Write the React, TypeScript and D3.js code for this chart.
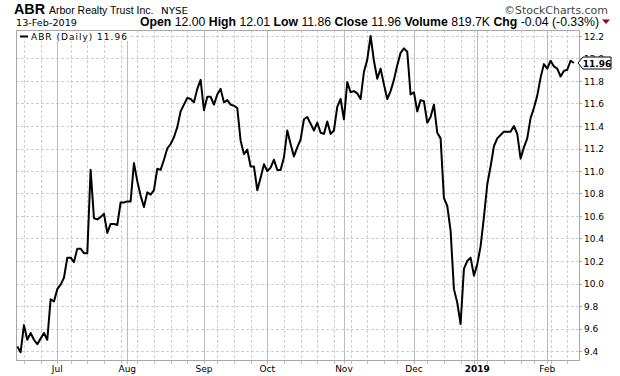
import React from "react";
import * as d3 from "d3";

// ---- data ----
const startDate = "2018-06-14";
const endDate = "2019-02-13";
const holidays = ["2018-07-04", "2018-09-03", "2018-11-22", "2018-12-05", "2018-12-25", "2019-01-01", "2019-01-21"];

const juneCloses = [9.44, 9.39, 9.63, 9.5, 9.56, 9.5, 9.46, 9.51, 9.56, 9.5, 9.86, 9.84];
const julyCloses = [9.95, 9.99, 10.05, 10.23, 10.23, 10.19, 10.31, 10.31, 10.27, 10.27, 11.01, 10.58, 10.57, 10.59, 10.62, 10.45, 10.53, 10.53, 10.52, 10.72, 10.72];
const augCloses = [10.73, 10.73, 11.07, 10.91, 10.78, 10.68, 10.81, 10.79, 10.83, 11.02, 11.01, 11.1, 11.2, 11.24, 11.3, 11.39, 11.53, 11.59, 11.65, 11.64, 11.61, 11.73, 11.81];
const sepCloses = [11.54, 11.66, 11.66, 11.59, 11.68, 11.73, 11.61, 11.63, 11.59, 11.58, 11.56, 11.27, 11.15, 11.19, 11.04, 11.04, 10.83, 10.94, 11.06];
const octCloses = [11.0, 11.03, 11.1, 11.01, 11.01, 11.12, 11.36, 11.24, 11.13, 11.21, 11.28, 11.46, 11.48, 11.42, 11.36, 11.43, 11.34, 11.33, 11.44, 11.33, 11.36, 11.57, 11.64];
const novCloses = [11.46, 11.79, 11.7, 11.71, 11.69, 11.64, 11.88, 11.99, 12.2, 11.98, 11.82, 11.91, 11.77, 11.64, 11.71, 11.81, 11.94, 12.05, 12.09, 12.06, 11.68];
const decCloses = [11.7, 11.53, 11.63, 11.62, 11.43, 11.48, 11.59, 11.34, 11.29, 10.76, 10.69, 10.47, 9.95, 9.83, 9.64, 10.13, 10.2, 10.23, 10.07];
const janCloses = [10.17, 10.33, 10.59, 10.88, 11.04, 11.22, 11.29, 11.32, 11.35, 11.35, 11.35, 11.4, 11.33, 11.11, 11.21, 11.29, 11.47, 11.56, 11.67, 11.83, 11.95];
const febCloses = [11.91, 11.98, 11.93, 11.91, 11.84, 11.89, 11.9, 11.98, 11.96];

const yTickValues = [9.4, 9.6, 9.8, 10.0, 10.2, 10.4, 10.6, 10.8, 11.0, 11.2, 11.4, 11.6, 11.8, 12.0, 12.2];
const monthNames = ["Jan", "Feb", "Mar", "Apr", "May", "Jun", "Jul", "Aug", "Sep", "Oct", "Nov", "Dec"];
const lastClose = 11.96;

const closes = [...juneCloses, ...julyCloses, ...augCloses, ...sepCloses, ...octCloses, ...novCloses, ...decCloses, ...janCloses, ...febCloses];

const fmtDay = d3.utcFormat("%Y-%m-%d");
const tradingDays = d3
  .utcDays(new Date(startDate), d3.utcDay.offset(new Date(endDate), 1))
  .filter((d) => d.getUTCDay() !== 0 && d.getUTCDay() !== 6 && !holidays.includes(fmtDay(d)));

const W = 620;
const H = 376;
const L = 16;
const R = 579;
const T = 30;
const B = 360;

const FONT = "'DejaVu Sans', Verdana, sans-serif";
const ARIAL = "'Liberation Sans', Arial, sans-serif";

export default function App() {
  const n = tradingDays.length;
  const x = d3.scaleLinear().domain([0, n - 1]).range([17.3, 17.3 + (n - 1) * 3.333]);
  const y = d3.scaleLinear().domain([9.4, 12.2]).range([351, 36]);

  const monthStarts: number[] = [];
  const weekStarts: number[] = [];
  tradingDays.forEach((d, i) => {
    if (i === 0) return;
    const p = tradingDays[i - 1];
    if (d.getUTCMonth() !== p.getUTCMonth()) monthStarts.push(i);
    if (d.getUTCDay() <= p.getUTCDay()) weekStarts.push(i);
  });

  const line = d3
    .line<number>()
    .x((_, i) => x(i))
    .y((v) => y(v));

  const gridColor = "#cfcfcf";
  const yLast = y(lastClose);

  return (
    <svg width={W} height={H} style={{ position: "absolute", left: 0, top: 0, background: "#fff" }}>
      <rect x={0} y={0} width={W} height={H} fill="#fff" />
      {/* header */}
      <text x={14} y={14} fontFamily={ARIAL} fontWeight="bold" fontSize={14} textLength={31} lengthAdjust="spacingAndGlyphs" fill="#000">ABR</text>
      <text x={49} y={14} fontFamily={ARIAL} fontSize={10.5} fill="#000">Arbor Realty Trust Inc.</text>
      <text x={161} y={14} fontFamily={FONT} fontSize={9} textLength={27} lengthAdjust="spacingAndGlyphs" fill="#000">NYSE</text>
      <text x={504} y={14} fontFamily={FONT} fontSize={10.5} textLength={104} lengthAdjust="spacingAndGlyphs" fill="#444">©StockCharts.com</text>
      <text x={16} y={25.5} fontFamily={FONT} fontSize={9.5} textLength={61} lengthAdjust="spacingAndGlyphs" fill="#000">13-Feb-2019</text>
      <text x={140} y={25.5} fontFamily={ARIAL} fontSize={12} textLength={459} lengthAdjust="spacingAndGlyphs" fill="#000">
        <tspan fontWeight="bold">Open</tspan>
        <tspan> 12.00 </tspan>
        <tspan fontWeight="bold">High</tspan>
        <tspan> 12.01 </tspan>
        <tspan fontWeight="bold">Low</tspan>
        <tspan> 11.86 </tspan>
        <tspan fontWeight="bold">Close</tspan>
        <tspan> 11.96 </tspan>
        <tspan fontWeight="bold">Volume</tspan>
        <tspan> 819.7K </tspan>
        <tspan fontWeight="bold">Chg</tspan>
        <tspan> -0.04 (-0.33%)</tspan>
      </text>
      <path d="M602,19.5 L610,19.5 L606,24 Z" fill="#a00020" />

      {/* grid */}
      {yTickValues.map((v) => (
        <line key={"h" + v} x1={L} x2={R} y1={Math.round(y(v)) + 0.5} y2={Math.round(y(v)) + 0.5} stroke={gridColor} strokeDasharray="3,2" />
      ))}
      {weekStarts.map((i) => (
        <line key={"w" + i} x1={Math.round(x(i)) + 0.5} x2={Math.round(x(i)) + 0.5} y1={T} y2={B} stroke={gridColor} strokeDasharray="3,2" />
      ))}
      {monthStarts.map((i) => (
        <line key={"m" + i} x1={Math.round(x(i)) + 0.5} x2={Math.round(x(i)) + 0.5} y1={T} y2={B} stroke="#bdbdbd" />
      ))}

      {/* frame */}
      <rect x={L + 0.5} y={T + 0.5} width={R - L} height={B - T} fill="none" stroke="#a8a8a8" />

      {/* ticks */}
      {weekStarts.concat(monthStarts).map((i) => (
        <line key={"t" + i} x1={Math.round(x(i)) + 0.5} x2={Math.round(x(i)) + 0.5} y1={B + 1} y2={B + 4} stroke="#bdbdbd" />
      ))}
      {yTickValues.map((v) => (
        <line key={"yt" + v} x1={R} x2={R + 3} y1={Math.round(y(v)) + 0.5} y2={Math.round(y(v)) + 0.5} stroke="#a8a8a8" />
      ))}

      {/* x labels */}
      {monthStarts.map((i) => {
        const d = tradingDays[i];
        const isYear = d.getUTCMonth() === 0;
        return (
          <text key={"xl" + i} x={x(i)} y={372} textAnchor="middle" fontFamily={FONT} fontSize={9} fontWeight={isYear ? "bold" : "normal"} fill="#000">
            {isYear ? String(d.getUTCFullYear()) : monthNames[d.getUTCMonth()]}
          </text>
        );
      })}

      {/* y labels */}
      {yTickValues.map((v) => (
        <text key={"yl" + v} x={584} y={y(v) + 3.5} fontFamily={FONT} fontSize={9} fill="#000">
          {v.toFixed(1)}
        </text>
      ))}

      {/* price line */}
      <path d={line(closes) ?? ""} fill="none" stroke="#000" strokeWidth={2} strokeLinejoin="round" />

      {/* legend */}
      <rect x={L + 1} y={T + 1} width={113} height={10} fill="#fff" />
      <line x1={20} x2={28} y1={36.5} y2={36.5} stroke="#000" strokeWidth={2} />
      <text x={31} y={39.5} fontFamily={FONT} fontSize={9} letterSpacing={1} fill="#000">ABR (Daily) 11.96</text>

      {/* last value marker */}
      <path d={`M578,${yLast} L583,${yLast - 6} L611,${yLast - 6} L611,${yLast + 6} L583,${yLast + 6} Z`} fill="#fff" stroke="#000" strokeWidth={1} />
      <text x={597} y={yLast + 3.5} textAnchor="middle" fontFamily={FONT} fontSize={9} fontWeight="bold" fill="#000">11.96</text>
    </svg>
  );
}
